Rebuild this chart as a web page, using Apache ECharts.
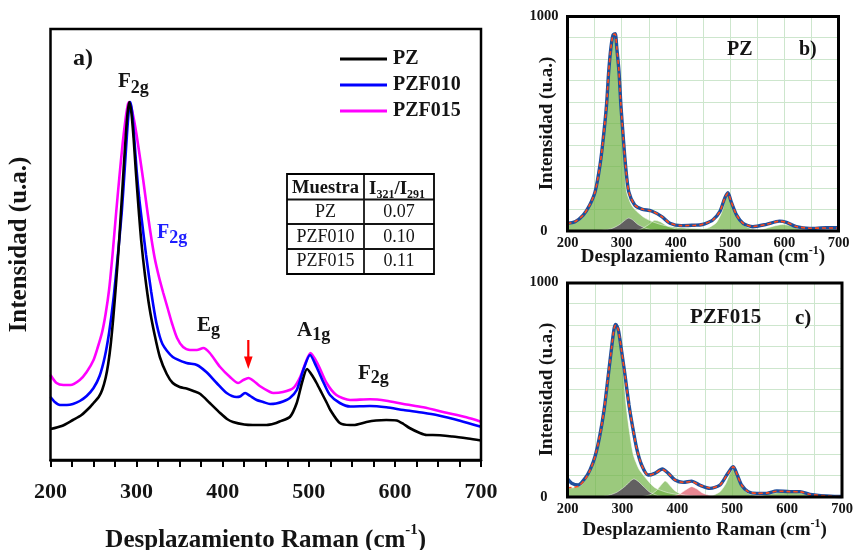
<!DOCTYPE html>
<html><head><meta charset="utf-8">
<script src="https://cdn.jsdelivr.net/npm/echarts@6/dist/echarts.min.js"></script>
<style>html,body{margin:0;padding:0;background:#fff}#c{width:854px;height:550px}</style>
</head><body><div id="c"></div>
<script>
// ---------- Panel a) : Raman spectra ----------
const seriesNames = ['PZ', 'PZF010', 'PZF015'];
const ramanTicks = [200, 300, 400, 500, 600, 700];

const pzShift = [200,213,226,236,246,250,256,260,264,267,270,273,276,279,282,285,287.5,289.5,291.5,294,296.5,299,302,305.5,309.7,315,321,327,335,342,350,358,366,374,385,397,405,412,425,435,451,460,466,478,486,492,498,505,509,515,521,525,536,548,552,567,578,590,602,610,617,629,637,644,667,685,700];
const pzIntensity = [31,34,40,45,53,57,63,70,82,96,116,143,175,210,250,292,325,347,358,347,322,290,255,218,185,152,125,103,86,77,73,71.5,69,66,57,47,41,38,35.5,35,35,36.5,38.5,43,57,77,91,83,77,67,57,50,37,35,35,38,39.5,40,39.5,36,32,27,25,25,23.5,21.5,19.5];

const pzf010Shift = [200,205,211,219,226,234,242,250,257,263,268,273,278,282.7,286.5,289,291,292.5,294.5,297,300,303,306,311,317,323,330,342,358,370,381,393,404.6,416,420,426,432,439.5,447,455,462,470,478,486,493.6,501.4,509,516.8,524.6,536,548,571,590,610,633,648.5,675.6,700];
const pzf010Intensity = [63,58,55,55,56,59,64,72,84,103,127,160,203,247,295,328,350,358,350,325,290,262,240,205,168,137,116,103,97,95,88,77,67,63,63.5,67,64,60,58,56,56.5,58.5,62,70,90,105,93,78,65,57,53.5,54,52.7,50,47.3,45,39.3,33.3];

const pzf015Shift = [200,207,215,223,234,242,250,255,260,264,268,272,276,280,284,287.5,290,291.5,294,297,300,304,308,312,316,321,326,331,336,341,347,354,362,370,377.5,385,397,408.5,418,424,430,436,443,455,459,470,482,490,497.5,502,511,520.7,532,548,571,590,610,633,660,683,700];
const pzf015Intensity = [85,77,75,75,80,88,100,113,128,146,170,205,245,283,318,343,356,358,352,340,325,302,278,252,228,202,183,167,152,137,122,113,110,110,112,107,93,83,77,80,82,79,74,68,67,68,72,83,100,107,95,77,65,60,60.7,59.3,56,52.7,47.3,42.7,38.3];

// table values
const tableSamples = ['PZ', 'PZF010', 'PZF015'];
const tableRatios = ['0.07', '0.10', '0.11'];

// ---------- Panel b) : PZ deconvolution ----------
const bShift = [200,214,229,241,251,260,266,272,276,280,284,288,291,295,298.5,303,307,313,324,337,355,374,389,410,435,444,453,468,481,490,496,502,512,524,542,567,591,604,622,647,677,700];
const bMeasured = [36,43,74,121,183,307,431,586,741,850,912,918,850,741,586,431,307,183,121,102,93,67,36,25,27,28,33,51,90,152,178,136,74,36,20,31,46,40,20,12,15,15];
const bFit = [34,44,74,121,183,307,431,586,741,850,912,916,850,741,586,431,307,183,121,102,93,67,36,25,26,28,34,51,90,152,176,136,74,36,21,31,45,40,21,13,14,14];
const bMainShift = [200,220,240,250,260,266,272,276,280,284,288,291,295,298,302,305.5,309,318,327,343,360,380,400,430,470,520,600,700];
const bMainBand = [30,52,110,175,300,430,586,741,850,905,912,850,741,586,431,307,183,121,93,60,40,25,18,12,8,5,2,0];
const bBand320Shift = [260,280,295,305,313,320,330,345,360,380];
const bBand320 = [2,10,28,48,60,52,30,12,4,0];
const bBand370Shift = [320,335,350,361,372,385,400,420,440];
const bBand370 = [0,8,30,50,42,22,10,4,0];
const bBand500Shift = [440,460,475,485,491,496,501,508,516,525,540,560,580];
const bBand500 = [3,15,40,90,145,170,150,100,55,28,10,3,0];
const bBand600Shift = [540,560,580,597,610,625,645,660];
const bBand600 = [0,8,22,30,25,12,4,0];

// ---------- Panel c) : PZF015 deconvolution ----------
const cShift = [200,207.6,219.7,232,241,250,259,267,274.3,280.5,285,288,292.6,298.7,304.7,312,318,326,335,347,359,372.7,383.6,395.8,411,426,441,459.6,477.8,490,499,502,509.3,517,529,545,563,581,605,623.5,641.7,672,696,700];
const cMeasured = [84,64,56,87,126,187,288,412,567,699,785,803,777,676,567,428,335,226,149,102,110,130,110,79,68,74,55,40,56,102,136,141,102,56,25,17,17,28,25,25,12.5,5,2,2];
const cFit = [43,44,50,82,124,187,288,412,567,699,785,800,777,676,567,428,335,226,149,102,110,128,110,79,68,72,55,42,56,100,134,140,102,56,25,17,18,27,25,24,12,5,2,2];
const cMainShift = [200,215,225,232,241,250,259,267,274,280,285,289,293,298,303,307,313,320,330,338,350,360,380,400,430,470,550];
const cMainBand = [40,45,55,80,120,180,280,400,560,690,780,786,760,660,540,420,300,195,130,102,65,42,22,12,6,3,0];
const cBand320Shift = [260,275,290,305,315,321,330,340,350,365,380];
const cBand320 = [0,8,22,50,75,84,70,45,22,6,0];
const cBand380Shift = [330,350,362,372,378,385,395,410,430,445];
const cBand380 = [0,10,30,60,74,58,30,10,2,0];
const cBand430Shift = [380,395,405,415,426,435,445,458,475,490];
const cBand430 = [0,5,15,32,48,38,20,8,2,0];
const cBand500Shift = [450,465,478,488,496,502,508,516,526,540,560,575];
const cBand500 = [0,8,25,60,110,133,105,55,22,8,2,0];
const cBand600Shift = [530,550,570,590,602,620,640,660,690];
const cBand600 = [0,5,15,23,25,20,12,5,0];

// ---------- build ----------
const FONT = '"Liberation Serif","Times New Roman",serif';
const INK = '#141414';
const zip = (xs, ys) => xs.map((x, i) => [x, ys[i]]);
const mctx = document.createElement('canvas').getContext('2d');
function tw(t, size, bold) { mctx.font = (bold ? 'bold ' : '') + size + 'px ' + FONT; return mctx.measureText(t).width; }
function txt(x, y, text, size, bold, color, align) {
  return { type: 'text', z: 60, style: { x: x, y: y, text: text, font: (bold ? 'bold ' : '') + size + 'px ' + FONT,
    fill: color || INK, align: align || 'left', verticalAlign: 'middle', textAlign: align || 'left', textVerticalAlign: 'middle' } };
}
function seq(x, pieces, color) {
  const out = []; let cx = x;
  pieces.forEach(p => { out.push(txt(cx, p[2], p[0], p[1], p[3] !== false, color)); cx += tw(p[0], p[1], p[3] !== false); });
  return out;
}
function line(x1, y1, x2, y2, w, c) { return { type: 'line', z: 60, shape: { x1, y1, x2, y2 }, style: { stroke: c || INK, lineWidth: w } }; }
function box(x, y, w, h, lw) { return { type: 'rect', z: 70, shape: { x, y, width: w, height: h }, style: { fill: 'none', stroke: '#000', lineWidth: lw } }; }

const GREEN = 'rgba(112,178,70,0.7)';
const GRAY = 'rgba(88,78,92,0.85)';
const RED = 'rgba(222,84,100,0.7)';
const GRIDC = '#cde6cd';
const SM = 0.25;

function band(name, xi, xs, ys, color) {
  return { name, type: 'line', xAxisIndex: xi, yAxisIndex: xi, data: zip(xs, ys), smooth: SM,
    showSymbol: false, lineStyle: { width: 0.8, color: 'rgba(255,255,255,0.6)' }, areaStyle: { color: color, opacity: 1 }, z: 2, silent: true };
}
function measured(name, xi, xs, ys) {
  return { name, type: 'line', xAxisIndex: xi, yAxisIndex: xi, data: zip(xs, ys), smooth: SM,
    showSymbol: false, lineStyle: { width: 3.4, color: '#1f4f9c' }, z: 4 };
}
function fit(name, xi, xs, ys) {
  return { name, type: 'line', xAxisIndex: xi, yAxisIndex: xi, data: zip(xs, ys), smooth: SM,
    showSymbol: false, lineStyle: { width: 1.6, color: '#ff4a1a', type: [4, 3] }, z: 5 };
}
function spectrum(name, xs, ys, color, z) {
  return { name, type: 'line', data: zip(xs, ys), smooth: SM, showSymbol: false, color: color, lineStyle: { width: 2.6, color: color }, z: z };
}

function nameRich(size, supSize, lh) {
  return { t: { fontFamily: FONT, fontWeight: 'bold', fontSize: size, color: INK, verticalAlign: 'bottom', lineHeight: lh },
           s: { fontFamily: FONT, fontWeight: 'bold', fontSize: supSize, color: INK, verticalAlign: 'top', lineHeight: supSize } };
}
const axisName = '{t|Desplazamiento Raman (cm}{s|-1}{t|)}';

function subX(gi, gap) {
  return { gridIndex: gi, type: 'value', min: 200, max: 700, interval: 100,
    axisLine: { show: false }, axisTick: { show: false },
    axisLabel: { fontFamily: FONT, fontWeight: 'bold', fontSize: 14.5, color: INK, margin: 5 },
    splitLine: { show: true, lineStyle: { color: GRIDC, width: 1 } },
    minorTick: { show: false, splitNumber: 2 },
    minorSplitLine: { show: true, lineStyle: { color: GRIDC, width: 1 } },
    name: axisName, nameLocation: 'middle', nameGap: gap, nameMoveOverlap: false,
    nameTextStyle: { fontFamily: FONT, fontWeight: 'bold', fontSize: 19, color: INK, rich: nameRich(19, 12, 22) } };
}
function subY(gi) {
  return { gridIndex: gi, type: 'value', min: 0, max: 1000, interval: 100,
    axisLine: { show: false }, axisTick: { show: false },
    axisLabel: { fontFamily: FONT, fontWeight: 'bold', fontSize: 14.5, color: INK, margin: 9,
      formatter: v => v === 0 ? '{z|0}' : (v === 1000 ? '1000' : ''),
      rich: { z: { fontFamily: FONT, fontWeight: 'bold', fontSize: 14.5, color: INK, padding: [0, 11, 0, 0] } } },
    splitLine: { show: true, lineStyle: { color: GRIDC, width: 1 } },
    name: 'Intensidad (u.a.)', nameLocation: 'middle', nameGap: 11, nameRotate: 90, nameMoveOverlap: false,
    nameTextStyle: { fontFamily: FONT, fontWeight: 'bold', fontSize: 19, color: INK } };
}

const graphics = [
  box(50.5, 29, 430.5, 431, 2.5),
  box(567.5, 16.5, 271, 214.5, 3),
  box(567.5, 283, 274.5, 214, 3),
  txt(73, 59, 'a)', 24, true),
  ...seq(118, [['F', 21, 81.7], ['2g', 18, 88.4]]),
  ...seq(157, [['F', 20, 233.2], ['2g', 18, 238.4]], '#1e1eff'),
  ...seq(197, [['E', 21, 325.7], ['g', 18, 330]]),
  ...seq(297, [['A', 21, 330.2], ['1g', 18, 335.4]]),
  ...seq(358, [['F', 21, 373.2], ['2g', 18, 378.4]]),
  line(248.3, 340, 248.3, 359, 2.2, '#ff0000'),
  { type: 'polygon', z: 60, shape: { points: [[244, 356.5], [252.6, 356.5], [248.3, 369]] }, style: { fill: '#ff0000' } },
  box(287, 174, 147, 100, 1.8),
  line(364, 174, 364, 274, 1.8), line(287, 199.5, 434, 199.5, 1.8), line(287, 224, 434, 224, 1.8), line(287, 249, 434, 249, 1.8),
  txt(325.5, 188, 'Muestra', 18.5, true, INK, 'center'),
  ...seq(369, [['I', 19, 189], ['321', 12, 195], ['/I', 19, 189], ['291', 12, 195]]),
  txt(727, 49.5, 'PZ', 20, true), txt(799, 49.5, 'b)', 20, true),
  txt(690, 317.5, 'PZF015', 21, true), txt(795, 318.5, 'c)', 21, true)
];
tableSamples.forEach((s, i) => {
  const y = 212 + i * 24.8;
  graphics.push(txt(325.5, y, s, 18, false, INK, 'center'));
  graphics.push(txt(399, y, tableRatios[i], 18, false, INK, 'center'));
});

const option = {
  animation: false,
  backgroundColor: '#fff',
  grid: [
    { left: 50.5, top: 29, width: 430.5, height: 431, outerBoundsMode: 'none', containLabel: false },
    { left: 567.5, top: 16, width: 271, height: 215, outerBoundsMode: 'none', containLabel: false },
    { left: 567.5, top: 282, width: 274.5, height: 215, outerBoundsMode: 'none', containLabel: false }
  ],
  legend: { data: seriesNames, left: 335, top: 44, orient: 'vertical', itemWidth: 47, itemHeight: 3, itemGap: 6, icon: 'rect',
    textStyle: { fontFamily: FONT, fontWeight: 'bold', fontSize: 20, color: INK, padding: [0, 0, 0, 1] } },
  xAxis: [
    { gridIndex: 0, type: 'value', min: 200, max: 700, interval: 100,
      axisLine: { lineStyle: { color: '#000', width: 2.5 } },
      axisTick: { length: 7, lineStyle: { color: '#000', width: 2 } },
      minorTick: { show: true, splitNumber: 4, length: 7, lineStyle: { color: '#000', width: 2 } },
      axisLabel: { fontFamily: FONT, fontWeight: 'bold', fontSize: 22, color: INK, margin: 21 },
      splitLine: { show: false },
      name: axisName, nameLocation: 'middle', nameGap: 63, nameMoveOverlap: false,
      nameTextStyle: { fontFamily: FONT, fontWeight: 'bold', fontSize: 25, color: INK, rich: nameRich(25, 15, 30) } },
    subX(1, 14), subX(2, 21)
  ],
  yAxis: [
    { gridIndex: 0, type: 'value', min: 0, max: 431,
      axisLine: { show: false }, axisTick: { show: false }, axisLabel: { show: false }, splitLine: { show: false },
      name: 'Intensidad (u.a.)', nameLocation: 'middle', nameGap: 18, nameRotate: 90, nameMoveOverlap: false,
      nameTextStyle: { fontFamily: FONT, fontWeight: 'bold', fontSize: 25, color: INK } },
    subY(1), subY(2)
  ],
  series: [
    spectrum('PZF015', pzf015Shift, pzf015Intensity, '#ff00ff', 3),
    spectrum('PZF010', pzf010Shift, pzf010Intensity, '#0000ff', 4),
    spectrum('PZ', pzShift, pzIntensity, '#000000', 5),

    band('b main', 1, bMainShift, bMainBand, GREEN),
    band('b 320', 1, bBand320Shift, bBand320, GRAY),
    band('b 370', 1, bBand370Shift, bBand370, GREEN),
    band('b 500', 1, bBand500Shift, bBand500, GREEN),
    band('b 600', 1, bBand600Shift, bBand600, GREEN),
    measured('b data', 1, bShift, bMeasured),
    fit('b fit', 1, bShift, bFit),

    band('c main', 2, cMainShift, cMainBand, GREEN),
    band('c 320', 2, cBand320Shift, cBand320, GRAY),
    band('c 380', 2, cBand380Shift, cBand380, GREEN),
    band('c 430', 2, cBand430Shift, cBand430, RED),
    band('c 500', 2, cBand500Shift, cBand500, GREEN),
    band('c 600', 2, cBand600Shift, cBand600, GREEN),
    measured('c data', 2, cShift, cMeasured),
    fit('c fit', 2, cShift, cFit)
  ],
  graphic: graphics
};
const chart = echarts.init(document.getElementById('c'), null, { renderer: 'canvas' });
chart.setOption(option);
</script></body></html>
